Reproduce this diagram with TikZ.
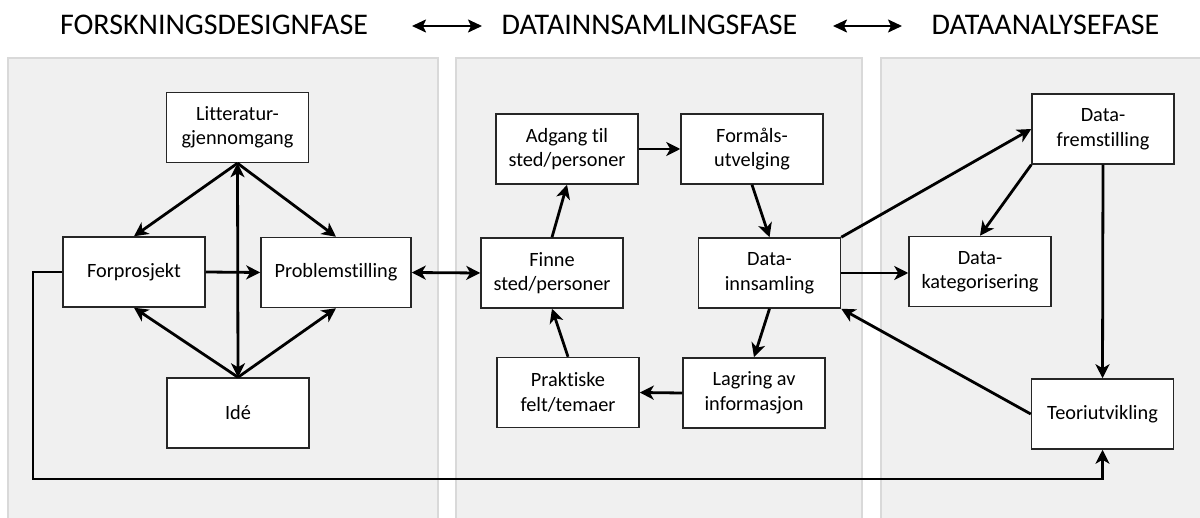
\documentclass[tikz,border=0pt]{standalone}
\usepackage{fontspec}
\setmainfont{Carlito}[Ligatures={NoCommon}]
\usetikzlibrary{arrows.meta}
\definecolor{panelfill}{HTML}{F0F0F0}
\definecolor{panelline}{HTML}{D9D9D9}
\definecolor{boxline}{HTML}{262626}
\begin{document}
\begin{tikzpicture}[x=1pt,y=-1pt,
  box/.style={draw=boxline, fill=white, line width=1.5pt, minimum width=142pt, minimum height=70pt,
    inner sep=0pt, align=center, font=\fontsize{20.3}{24.5}\selectfont},
  arr/.style={line width=2.8pt, -{Stealth[length=14pt,width=14pt,inset=4pt]}},
  darr/.style={line width=2.8pt, {Stealth[length=14pt,width=14pt,inset=4pt]}-{Stealth[length=14pt,width=14pt,inset=4pt]}},
  panel/.style={fill=panelfill, draw=panelline, line width=2.5pt},
  title/.style={anchor=base, inner sep=0pt, font=\fontsize{30}{36}\selectfont},
  tarr/.style={line width=2pt, {Stealth[length=14pt,width=13pt,inset=3pt]}-{Stealth[length=14pt,width=13pt,inset=3pt]}}]
\useasboundingbox (0,0) rectangle (1200,518);
\fill[white] (0,0) rectangle (1200,518);
% panels
\path[panel] (8,58) rectangle (438,540);
\path[panel] (456,58) rectangle (862,540);
\path[panel] (881,58) rectangle (1215,540);
% titles
\node[title] (t1) at (214,35) {FORSKNINGSDESIGNFASE};
\node[title] (t2) at (649.5,35) {DATAINNSAMLINGSFASE};
\node[title] (t3) at (1045.5,35) {DATAANALYSEFASE};
\coordinate (a1s) at (412,26);
\coordinate (a1e) at (482,26);
\coordinate (a2s) at (833,26);
\coordinate (a2e) at (902,26);
\draw[tarr] (a1s) -- (a1e);
\draw[tarr] (a2s) -- (a2e);
% boxes
\node[box] (lit) at (237.5,127.5) {Litteratur-\\gjennomgang};
\node[box] (forp) at (134,272) {Forprosjekt};
\node[box, minimum width=150pt] (prob) at (336,272.5) {Problemstilling};
\node[box] (ide) at (238,413) {Idé};
\node[box] (finne) at (552,273) {Finne\\sted/personer};
\node[box] (adg) at (567,149) {Adgang til\\sted/personer};
\node[box] (form) at (752,149) {Formåls-\\utvelging};
\node[box] (inns) at (769.5,273) {Data-\\innsamling};
\node[box] (lag) at (754,393) {Lagring av\\informasjon};
\node[box] (prak) at (568,392.5) {Praktiske\\felt/temaer};
\node[box] (frem) at (1103,129) {Data-\\fremstilling};
\node[box] (kat) at (980,271.5) {Data-\\kategorisering};
\node[box] (teori) at (1102.5,414) {Teoriutvikling};
% connectors, first phase
\draw[arr] (lit.south) -- (forp.north);
\draw[arr] (lit.south) -- (prob.north);
\draw[darr] (ide.north) -- (lit.south);
\draw[arr] (ide.north) -- (forp.south);
\draw[arr] (ide.north) -- (prob.south);
\draw[arr] (forp.east) -- (prob.west);
\draw[darr] (prob.east) -- (finne.west);
% second phase
\draw[arr] (finne.north) -- (adg.south);
\draw[arr] (adg.east) -- (form.west);
\draw[arr] (form.south) -- (inns.north);
\draw[arr] (inns.south) -- (lag.north);
\draw[arr] (lag.west) -- (prak.east);
\draw[arr] (prak.north) -- (finne.south);
% third phase
\draw[arr] (inns.north east) -- (frem.west);
\draw[arr] (inns.east) -- (inns.east -| kat.west);
\draw[arr] (frem.south west) -- (kat.north);
\draw[arr] (frem.south) -- (teori.north);
\draw[arr] (teori.west) -- (inns.south east);
% long loop
\coordinate (l1) at (33,272);
\coordinate (l2) at (33,479);
\coordinate (l3) at (1102.5,479);
\draw[line width=2.8pt, -{Stealth[length=14pt,width=14pt,inset=4pt]}, line join=miter]
  (forp.west) -- (l1) -- (l2) -- (l3) -- (teori.south);
\end{tikzpicture}
\end{document}
